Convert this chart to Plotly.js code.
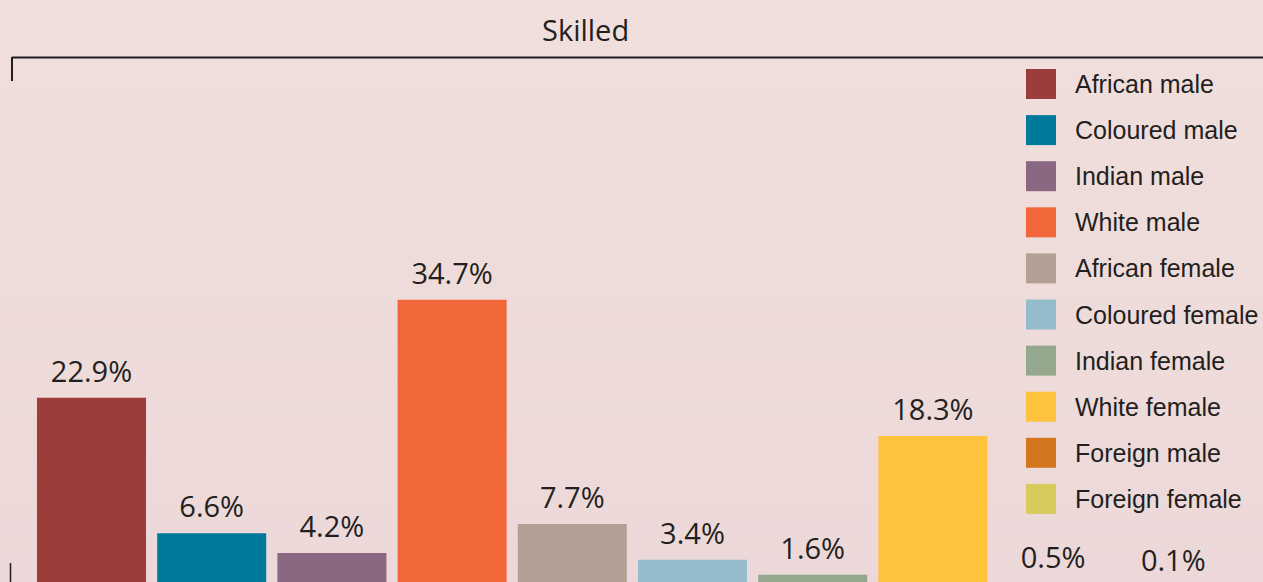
<!DOCTYPE html>
<html>
<head>
<meta charset="utf-8">
<script src="https://cdn.plot.ly/plotly-3.0.1.min.js"></script>
<style>
  html, body {
    margin: 0;
    padding: 0;
    overflow: hidden;
    background: linear-gradient(#f0dfdd, #ecd8d8);
  }
  #chart {
    width: 1263px;
    height: 588px;
  }
</style>
</head>
<body>
<div id="chart"></div>
<script>
// values (share of skilled jobs, %)
const categories = [
  "African male", "Coloured male", "Indian male", "White male",
  "African female", "Coloured female", "Indian female", "White female",
  "Foreign male", "Foreign female"
];
const shares = [22.9, 6.6, 4.2, 34.7, 7.7, 3.4, 1.6, 18.3, 0.5, 0.1];
const colours = [
  "#9b3d3b", "#007a9c", "#8b6882", "#f26739",
  "#b2a095", "#95bccb", "#93a88d", "#ffc23c",
  "#d2751d", "#d8cb5d"
];
const chartTitle = "Skilled";

// the figure runs a few pixels past the bottom of the window,
// so the zero line is just out of view as in the original
const W = 1263;
const H = 588;
const ink = "#231f20";
const pxPerPct = 8.305;

// pixel -> paper helpers (plot area fills the whole figure)
const px = v => v / W;
const py = v => 1 - v / H;

const xs = categories.map((c, i) => i);

const bars = {
  type: "bar",
  x: xs,
  y: shares,
  marker: { color: colours },
  hoverinfo: "skip",
  showlegend: false
};

// value labels; an invisible marker pushes the text a bit above the bar top
const labels = {
  type: "scatter",
  mode: "markers+text",
  x: xs,
  y: shares,
  text: shares.map(v => v.toFixed(1) + "%"),
  textposition: "top center",
  textfont: { family: "Open Sans", size: 29, color: ink },
  marker: { size: 12, color: "rgba(0,0,0,0)" },
  cliponaxis: false,
  hoverinfo: "skip",
  showlegend: false
};

const annotations = [];
const shapes = [];

// title
annotations.push({
  x: px(585),
  y: py(30),
  xref: "paper",
  yref: "paper",
  text: chartTitle,
  showarrow: false,
  xanchor: "center",
  yanchor: "middle",
  font: { family: "Open Sans", size: 29, color: ink }
});

// bracket under the title
shapes.push({
  type: "line", xref: "paper", yref: "paper",
  x0: px(12), x1: px(1263), y0: py(57.5), y1: py(57.5),
  line: { color: ink, width: 2 }
});
shapes.push({
  type: "line", xref: "paper", yref: "paper",
  x0: px(12), x1: px(12), y0: py(57), y1: py(81),
  line: { color: ink, width: 2 }
});
shapes.push({
  type: "line", xref: "paper", yref: "paper",
  x0: px(10.5), x1: px(10.5), y0: py(563), y1: py(588),
  line: { color: ink, width: 1.5 }
});

// legend: squares and labels
categories.forEach((name, i) => {
  const cy = 84 + 46.1 * i;
  shapes.push({
    type: "rect", xref: "paper", yref: "paper",
    x0: px(1026), x1: px(1056),
    y0: py(cy - 15), y1: py(cy + 15),
    fillcolor: colours[i],
    line: { width: 0 }
  });
  annotations.push({
    x: px(1073),
    y: py(cy),
    xref: "paper",
    yref: "paper",
    text: name,
    showarrow: false,
    xanchor: "left",
    yanchor: "middle",
    font: { family: "Liberation Sans", size: 25, color: ink }
  });
});

const layout = {
  width: W,
  height: H,
  margin: { l: 0, r: 0, t: 0, b: 0, pad: 0 },
  paper_bgcolor: "rgba(0,0,0,0)",
  plot_bgcolor: "rgba(0,0,0,0)",
  bargap: 0.093,
  xaxis: {
    range: [-91.5 / 120.2, (W - 91.5) / 120.2],
    visible: false,
    fixedrange: true
  },
  yaxis: {
    range: [0, H / pxPerPct],
    visible: false,
    fixedrange: true
  },
  annotations,
  shapes,
  showlegend: false
};

Plotly.newPlot("chart", [bars, labels], layout, {
  displayModeBar: false,
  staticPlot: true
});
</script>
</body>
</html>
